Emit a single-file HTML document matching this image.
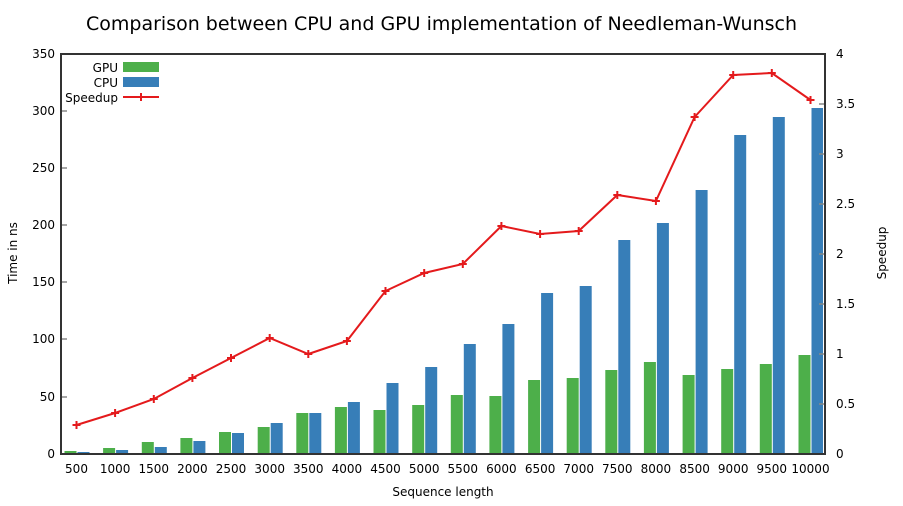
<!DOCTYPE html>
<html><head><meta charset="utf-8"><style>
html,body{margin:0;padding:0;background:#fff;}
svg text{font-family:"DejaVu Sans","Liberation Sans",sans-serif;fill:#000;}
</style></head><body>
<svg width="903" height="501" viewBox="0 0 903 501" xmlns="http://www.w3.org/2000/svg">
<rect width="903" height="501" fill="#fff"/>
<text x="441.5" y="30" font-size="19" text-anchor="middle" textLength="711" lengthAdjust="spacingAndGlyphs">Comparison between CPU and GPU implementation of Needleman-Wunsch</text>
<g fill="#4daf4a">
<rect x="64.5" y="451" width="12" height="3"/>
<rect x="103.1" y="448" width="12" height="6"/>
<rect x="141.8" y="442" width="12" height="12"/>
<rect x="180.4" y="438" width="12" height="16"/>
<rect x="219" y="432" width="12" height="22"/>
<rect x="257.7" y="427" width="12" height="27"/>
<rect x="296.3" y="413" width="12" height="41"/>
<rect x="334.9" y="407" width="12" height="47"/>
<rect x="373.5" y="410" width="12" height="44"/>
<rect x="412.2" y="405" width="12" height="49"/>
<rect x="450.8" y="395" width="12" height="59"/>
<rect x="489.4" y="396" width="12" height="58"/>
<rect x="528.1" y="380" width="12" height="74"/>
<rect x="566.7" y="378" width="12" height="76"/>
<rect x="605.3" y="370" width="12" height="84"/>
<rect x="643.9" y="362" width="12" height="92"/>
<rect x="682.6" y="375" width="12" height="79"/>
<rect x="721.2" y="369" width="12" height="85"/>
<rect x="759.8" y="364" width="12" height="90"/>
<rect x="798.5" y="355" width="12" height="99"/>
</g>
<g fill="#377eb8">
<rect x="77.5" y="452" width="12" height="2"/>
<rect x="116.1" y="450" width="12" height="4"/>
<rect x="154.8" y="447" width="12" height="7"/>
<rect x="193.4" y="441" width="12" height="13"/>
<rect x="232" y="433" width="12" height="21"/>
<rect x="270.7" y="423" width="12" height="31"/>
<rect x="309.3" y="413" width="12" height="41"/>
<rect x="347.9" y="402" width="12" height="52"/>
<rect x="386.5" y="383" width="12" height="71"/>
<rect x="425.2" y="367" width="12" height="87"/>
<rect x="463.8" y="344" width="12" height="110"/>
<rect x="502.4" y="324" width="12" height="130"/>
<rect x="541.1" y="293" width="12" height="161"/>
<rect x="579.7" y="286" width="12" height="168"/>
<rect x="618.3" y="240" width="12" height="214"/>
<rect x="656.9" y="223" width="12" height="231"/>
<rect x="695.6" y="190" width="12" height="264"/>
<rect x="734.2" y="135" width="12" height="319"/>
<rect x="772.8" y="117" width="12" height="337"/>
<rect x="811.5" y="108" width="11.5" height="346"/>
</g>
<polyline fill="none" stroke="#e41a1c" stroke-width="2" points="76.5,425 115.1,413 153.8,399 192.4,378 231,358 269.7,338 308.3,354 346.9,341 385.5,291 424.2,273 462.8,264 501.4,226 540.1,234 578.7,231 617.3,195 655.9,201 694.6,117 733.2,75 771.8,73 810.5,100"/>
<g stroke="#e41a1c" stroke-width="2" fill="none">
<path d="M72.5,425h8M76.5,421v8 M111.1,413h8M115.1,409v8 M149.8,399h8M153.8,395v8 M188.4,378h8M192.4,374v8 M227,358h8M231,354v8 M265.7,338h8M269.7,334v8 M304.3,354h8M308.3,350v8 M342.9,341h8M346.9,337v8 M381.5,291h8M385.5,287v8 M420.2,273h8M424.2,269v8 M458.8,264h8M462.8,260v8 M497.4,226h8M501.4,222v8 M536.1,234h8M540.1,230v8 M574.7,231h8M578.7,227v8 M613.3,195h8M617.3,191v8 M651.9,201h8M655.9,197v8 M690.6,117h8M694.6,113v8 M729.2,75h8M733.2,71v8 M767.8,73h8M771.8,69v8 M806.5,100h8M810.5,96v8"/>
</g>
<g stroke="#888" stroke-width="1.5">
<path d="M61,111h6M61,168h6M61,225h6M61,282h6M61,339h6M61,397h6"/>
<path d="M825,104h-6M825,154h-6M825,204h-6M825,254h-6M825,304h-6M825,354h-6M825,404h-6"/>
</g>
<rect x="61" y="54" width="764" height="400" fill="none" stroke="#333" stroke-width="2"/>
<g font-size="12" text-anchor="end">
<text x="55" y="58">350</text><text x="55" y="115">300</text><text x="55" y="172">250</text><text x="55" y="229">200</text><text x="55" y="286">150</text><text x="55" y="343">100</text><text x="55" y="401">50</text><text x="55" y="458">0</text>
</g>
<g font-size="12">
<text x="836" y="58">4</text><text x="836" y="108">3.5</text><text x="836" y="158">3</text><text x="836" y="208">2.5</text><text x="836" y="258">2</text><text x="836" y="308">1.5</text><text x="836" y="358">1</text><text x="836" y="408">0.5</text><text x="836" y="458">0</text>
</g>
<g font-size="12" text-anchor="middle">
<text x="76.5" y="473">500</text><text x="115.1" y="473">1000</text><text x="153.8" y="473">1500</text><text x="192.4" y="473">2000</text><text x="231" y="473">2500</text><text x="269.7" y="473">3000</text><text x="308.3" y="473">3500</text><text x="346.9" y="473">4000</text><text x="385.5" y="473">4500</text><text x="424.2" y="473">5000</text><text x="462.8" y="473">5500</text><text x="501.4" y="473">6000</text><text x="540.1" y="473">6500</text><text x="578.7" y="473">7000</text><text x="617.3" y="473">7500</text><text x="655.9" y="473">8000</text><text x="694.6" y="473">8500</text><text x="733.2" y="473">9000</text><text x="771.8" y="473">9500</text><text x="810.5" y="473">10000</text>
</g>
<text x="443" y="496" font-size="12" text-anchor="middle">Sequence length</text>
<text transform="translate(17,253) rotate(-90)" font-size="12" text-anchor="middle">Time in ns</text>
<text transform="translate(886,253) rotate(-90)" font-size="12" text-anchor="middle">Speedup</text>
<g font-size="12" text-anchor="end">
<text x="118" y="72">GPU</text><text x="118" y="87">CPU</text><text x="118" y="102">Speedup</text>
</g>
<rect x="123" y="62" width="36" height="10" fill="#4daf4a"/>
<rect x="123" y="77" width="36" height="10" fill="#377eb8"/>
<path d="M123,97h36M141,93v8" stroke="#e41a1c" stroke-width="2"/>
</svg>
</body></html>
